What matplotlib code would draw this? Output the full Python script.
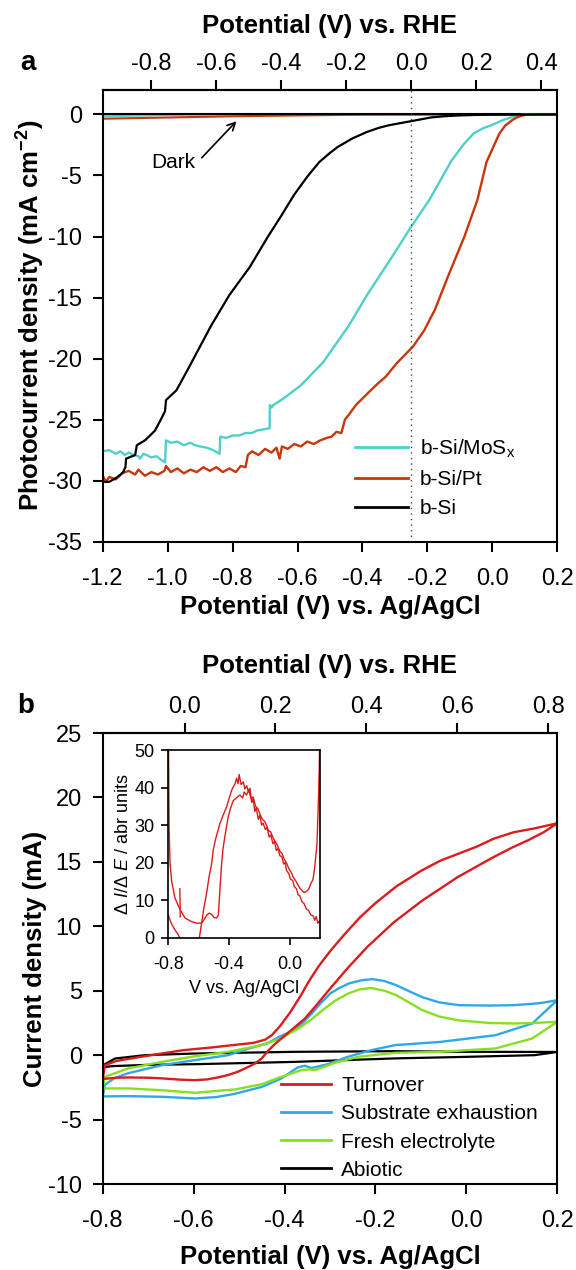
import matplotlib
matplotlib.use("Agg")
import matplotlib.pyplot as plt
from matplotlib.lines import Line2D
from matplotlib.ticker import FormatStrFormatter

plt.rcParams['font.family'] = ['Liberation Sans', 'DejaVu Sans']
plt.rcParams['mathtext.fontset'] = 'custom'
plt.rcParams['mathtext.rm'] = 'Liberation Sans'
plt.rcParams['mathtext.it'] = 'Liberation Sans:italic'
plt.rcParams['mathtext.bf'] = 'Liberation Sans:bold'
plt.rcParams['axes.unicode_minus'] = False

# ---------------- panel a: photocurrent vs potential ----------------
RHE_A = 0.25  # V, Ag/AgCl -> RHE
a_xticks = [-1.2, -1.0, -0.8, -0.6, -0.4, -0.2, 0.0, 0.2]
a_rhe_ticks = [-0.8, -0.6, -0.4, -0.2, 0.0, 0.2, 0.4]
a_yticks = [0, -5, -10, -15, -20, -25, -30, -35]

si_v = [-1.2, -1.18, -1.16, -1.145, -1.137, -1.13, -1.128, -1.1, -1.095, -1.07,
        -1.054, -1.039, -1.019, -1.008, -1.005, -0.973, -0.94, -0.906, -0.866,
        -0.81, -0.747, -0.691, -0.65, -0.611, -0.57, -0.533, -0.5, -0.476, -0.43,
        -0.386, -0.35, -0.318, -0.25, -0.19, -0.15, -0.104, -0.05, 0.0, 0.2]
si_j = [-30.1, -30.1, -29.8, -29.5, -29.3, -28.9, -28.2, -27.9, -27.1, -26.7,
        -26.3, -25.9, -24.9, -24.3, -23.4, -22.6, -21.0, -19.3, -17.3,
        -14.8, -12.5, -10.0, -8.3, -6.6, -5.1, -3.9, -3.15, -2.66, -1.95,
        -1.43, -1.1, -0.88, -0.55, -0.25, -0.15, -0.08, -0.04, -0.02, 0.0]

pt_v = [-1.20, -1.19, -1.18, -1.16, -1.14, -1.12, -1.10, -1.09, -1.07, -1.05,
        -1.03, -1.01, -1.005, -0.99, -0.97, -0.95, -0.93, -0.91, -0.89, -0.87,
        -0.85, -0.83, -0.81, -0.79, -0.775, -0.76, -0.753, -0.74, -0.72, -0.70,
        -0.68, -0.665, -0.655, -0.648, -0.63, -0.61, -0.59, -0.57, -0.55, -0.53,
        -0.51, -0.495, -0.48, -0.465, -0.454, -0.442, -0.42, -0.386, -0.355, -0.329,
        -0.295, -0.244, -0.21, -0.177, -0.137, -0.086, -0.046, -0.018, 0.021, 0.04,
        0.061, 0.075, 0.09, 0.11, 0.2]
pt_j = [-29.6, -30.1, -29.7, -29.9, -29.4, -29.2, -29.5, -29.1, -29.6, -29.3,
        -29.5, -29.2, -28.8, -29.3, -29.0, -29.4, -29.1, -29.3, -28.9, -29.2,
        -28.9, -29.3, -29.0, -29.3, -28.8, -28.9, -27.9, -27.6, -27.9, -27.4,
        -27.7, -27.3, -28.2, -27.2, -27.4, -27.0, -27.2, -26.8, -27.0, -26.7,
        -26.5, -26.4, -26.0, -26.1, -25.0, -24.6, -23.8, -22.9, -22.1, -21.5,
        -20.4, -19.0, -17.7, -16.0, -13.3, -10.0, -7.0, -3.9, -1.6, -0.9,
        -0.47, -0.25, -0.1, 0.0, 0.0]

mos_v = [-1.2, -1.18, -1.16, -1.145, -1.132, -1.12, -1.105, -1.09, -1.085, -1.075,
         -1.065, -1.05, -1.035, -1.02, -1.008, -1.005, -0.99, -0.97, -0.95, -0.93,
         -0.916, -0.9, -0.88, -0.86, -0.84, -0.838, -0.82, -0.8, -0.78, -0.76,
         -0.74, -0.725, -0.705, -0.686, -0.685, -0.68, -0.674, -0.645, -0.59,
         -0.521, -0.442, -0.386, -0.3, -0.25, -0.194, -0.16, -0.125, -0.09, -0.058,
         -0.03, 0.0, 0.032, 0.05, 0.07, 0.085, 0.097, 0.2]
mos_j = [-27.6, -27.5, -27.8, -27.6, -27.9, -27.7, -27.9, -28.0, -28.2, -27.8,
         -27.9, -28.1, -28.0, -28.3, -28.5, -26.7, -26.9, -26.8, -27.1, -26.9,
         -27.1, -27.2, -27.3, -27.5, -27.8, -26.4, -26.5, -26.3, -26.3, -26.1,
         -26.1, -25.9, -25.8, -25.7, -23.8, -24.0, -23.8, -23.3, -22.2,
         -20.3, -17.3, -14.8, -11.3, -9.2, -7.0, -5.4, -3.75, -2.5, -1.56,
         -1.15, -0.85, -0.47, -0.3, -0.15, -0.05, 0.0, 0.0]

dark_v = [-1.2, -1.0, -0.8, -0.6, -0.4, 0.2]
dark_pt = [-0.35, -0.25, -0.15, -0.08, -0.02, 0.0]
dark_mos = [-0.15, -0.05, 0.0, 0.0, 0.0, 0.0]
dark_si = [0.0, 0.0, 0.0, 0.0, 0.0, 0.0]

# ---------------- panel b: cyclic voltammograms ----------------
RHE_B = 0.62
b_xticks = [-0.8, -0.6, -0.4, -0.2, 0.0, 0.2]
b_rhe_ticks = [0.0, 0.2, 0.4, 0.6, 0.8]
b_yticks = [-10, -5, 0, 5, 10, 15, 20, 25]

turn_v = [-0.8, -0.77, -0.744, -0.7, -0.67, -0.63, -0.597, -0.57, -0.547, -0.525,
          -0.503, -0.485, -0.465, -0.45, -0.436, -0.42, -0.4, -0.38, -0.355, -0.333,
          -0.299, -0.26, -0.218, -0.16, -0.097, -0.02, 0.056, 0.1, 0.137, 0.17, 0.2,
          0.15, 0.104, 0.06, 0.024, -0.02, -0.057, -0.1, -0.154, -0.2, -0.234,
          -0.27, -0.299, -0.325, -0.347, -0.363, -0.388, -0.41, -0.428, -0.443,
          -0.469, -0.509, -0.56, -0.622, -0.67, -0.72, -0.77, -0.795, -0.8]
turn_i = [-1.85, -1.75, -1.73, -1.75, -1.8, -1.9, -1.94, -1.88, -1.73, -1.55,
          -1.29, -1.0, -0.65, -0.25, 0.35, 0.9, 1.5, 2.1, 2.85, 3.75,
          5.2, 6.8, 8.4, 10.3, 12.0, 13.8, 15.3, 16.1, 16.7, 17.3, 18.0,
          17.6, 17.3, 16.8, 16.2, 15.6, 15.1, 14.3, 13.1, 11.8, 10.7,
          9.3, 8.1, 6.9, 5.7, 4.7, 3.3, 2.25, 1.55, 1.2,
          0.95, 0.8, 0.6, 0.39, 0.13, -0.15, -0.45, -0.78, -1.85]

exh_v = [-0.8, -0.744, -0.67, -0.597, -0.55, -0.509, -0.45, -0.407, -0.371, -0.355,
         -0.341, -0.305, -0.261, -0.209, -0.157, -0.057, 0.064, 0.145, 0.2,
         0.17, 0.15, 0.104, 0.05, -0.017, -0.06, -0.097, -0.125, -0.154, -0.18,
         -0.206, -0.23, -0.259, -0.28, -0.299, -0.32, -0.34, -0.36, -0.38, -0.412,
         -0.437, -0.48, -0.524, -0.6, -0.67, -0.744, -0.775, -0.795, -0.8]
exh_i = [-3.2, -3.18, -3.23, -3.36, -3.25, -3.0, -2.46, -1.81, -0.95, -0.82,
         -1.0, -0.7, -0.13, 0.39, 0.78, 1.03, 1.55, 2.46, 4.27,
         4.08, 4.0, 3.88, 3.85, 3.88, 4.1, 4.5, 4.95, 5.43, 5.75,
         5.9, 5.82, 5.56, 5.2, 4.8, 4.05, 3.24, 2.5, 1.94, 1.42,
         0.93, 0.5, 0.0, -0.4, -0.78, -1.4, -1.8, -2.3, -3.2]

fresh_v = [-0.8, -0.744, -0.67, -0.597, -0.509, -0.45, -0.407, -0.363, -0.345, -0.333,
           -0.289, -0.239, -0.157, -0.057, 0.064, 0.145, 0.2,
           0.15, 0.104, 0.05, -0.017, -0.06, -0.097, -0.154, -0.18, -0.21, -0.235,
           -0.259, -0.29, -0.316, -0.34, -0.364, -0.407, -0.45, -0.524, -0.6, -0.67,
           -0.744, -0.795, -0.8]
fresh_i = [-2.58, -2.58, -2.72, -2.92, -2.66, -2.25, -1.68, -1.16, -1.1, -1.16,
           -0.59, -0.13, 0.18, 0.26, 0.52, 1.3, 2.59,
           2.5, 2.46, 2.5, 2.7, 3.0, 3.5, 4.65, 5.0, 5.22, 5.1,
           4.8, 4.2, 3.5, 2.8, 2.2, 1.3, 0.78, 0.26, -0.1, -0.52,
           -1.03, -1.68, -2.58]

abio_v = [-0.8, -0.78, -0.7, -0.597, -0.377, -0.157, 0.0, 0.15, 0.2,
          0.0, -0.157, -0.377, -0.597, -0.707, -0.773, -0.795, -0.8]
abio_i = [-0.95, -0.85, -0.75, -0.7, -0.52, -0.25, -0.13, 0.0, 0.25,
          0.26, 0.31, 0.26, 0.13, 0.0, -0.26, -0.7, -0.95]

# inset: dI/dE of turnover CV
in_xticks = [-0.8, -0.4, 0.0]
in_yticks = [0, 10, 20, 30, 40, 50]
dA_v = [-0.799, -0.795, -0.789, -0.778, -0.756, -0.723, -0.69, -0.65, -0.613, -0.58,
        -0.56, -0.547, -0.53, -0.515, -0.498, -0.482, -0.47, -0.46, -0.45, -0.44,
        -0.427, -0.405, -0.39, -0.372, -0.35, -0.328, -0.31, -0.3, -0.284, -0.27,
        -0.255, -0.241, -0.225, -0.21, -0.197, -0.18, -0.165, -0.153, -0.14, -0.125,
        -0.109, -0.095, -0.08, -0.065, -0.05, -0.035, -0.021, -0.005, 0.01, 0.022,
        0.04, 0.055, 0.066, 0.08, 0.095, 0.111, 0.125, 0.14, 0.154, 0.165,
        0.18, 0.188, 0.195, 0.198]
dA_y = [55, 30, 20, 15, 10.5, 7.5, 5.2, 4.3, 3.8, 3.9,
        5.0, 6.0, 6.5, 6.2, 5.3, 5.2, 6.0, 12.6, 19.0, 23.5,
        27.0, 32.2, 34.5, 36.5, 37.3, 38.0, 37.2, 38.8, 38.0, 39.5,
        37.0, 37.5, 35.0, 34.4, 33.0, 31.5, 31.0, 30.0, 28.5, 28.2,
        26.5, 25.6, 24.5, 23.0, 22.4, 20.8, 19.9, 18.3, 17.4, 16.2,
        15.1, 14.0, 13.2, 12.6, 12.0, 12.3, 12.9, 14.4, 15.5, 18.8,
        25.0, 34.8, 45.0, 55]
dB_v = [-0.8, -0.79, -0.778, -0.756, -0.735, -0.72, -0.7, -0.62, -0.595, -0.58,
        -0.565, -0.547, -0.53, -0.515, -0.504, -0.49, -0.46, -0.44, -0.416, -0.4,
        -0.385, -0.372, -0.36, -0.35, -0.34, -0.333, -0.32, -0.306, -0.295, -0.284,
        -0.27, -0.262, -0.25, -0.241, -0.23, -0.22, -0.207, -0.197, -0.185, -0.175,
        -0.16, -0.15, -0.135, -0.125, -0.11, -0.1, -0.088, -0.076, -0.065, -0.052,
        -0.04, -0.03, -0.02, -0.005, 0.005, 0.02, 0.03, 0.045, 0.055, 0.066,
        0.08, 0.095, 0.11, 0.125, 0.14, 0.154, 0.165, 0.175, 0.185, 0.195, 0.2]
dB_y = [6.0, 4.8, 3.6, 2.0, 0.8, -0.5, -4.0, -4.0, 0.0, 4.0,
        8.0, 12.0, 16.5, 19.5, 23.3, 26.0, 30.4, 32.5, 34.8, 37.0,
        39.0, 40.2, 41.0, 42.5, 41.0, 43.5, 40.8, 41.5, 39.6, 40.5,
        38.8, 39.8, 36.0, 37.2, 33.6, 34.6, 31.5, 32.6, 30.0, 30.5,
        28.8, 29.4, 26.8, 27.4, 25.0, 25.6, 23.2, 23.8, 21.8, 21.6,
        19.6, 20.0, 17.8, 17.0, 15.6, 15.2, 13.6, 13.0, 11.4, 11.2,
        9.6, 9.0, 7.6, 7.2, 6.0, 5.8, 4.6, 5.6, 3.8, 4.4, 4.0]
dC_v = [-0.724, -0.721]
dC_y = [13.0, 5.5]

C_MOS = '#4FCFCA'
C_PT = '#C8360C'
C_TURN = '#DA1C1C'
C_EXH = '#2EA8EC'
C_FRESH = '#86E01E'


def style(ax, size=17, length=7, lw=1.5):
    for s in ax.spines.values():
        s.set_linewidth(lw)
    ax.tick_params(direction='out', length=length, width=lw, labelsize=size,
                   top=False, right=False)


fig = plt.figure(figsize=(5.76, 12.7), dpi=100)
ax_a = fig.add_axes([0.1783, 0.5735, 0.7892, 0.3556])
ax_b = fig.add_axes([0.1783, 0.0677, 0.7892, 0.3551])
ax_in = fig.add_axes([0.2922, 0.2618, 0.2634, 0.1476])

# ---- panel a
ax_a.plot(dark_v, dark_mos, color=C_MOS, lw=1.5)
ax_a.plot(dark_v, dark_pt, color=C_PT, lw=1.5)
ax_a.plot(dark_v, dark_si, color='black', lw=1.5)
ax_a.plot(mos_v, mos_j, color=C_MOS, lw=1.7)
ax_a.plot(pt_v, pt_j, color=C_PT, lw=1.7)
ax_a.plot(si_v, si_j, color='black', lw=1.6)
ax_a.axvline(-RHE_A, color='#444444', ls=(0, (1, 3)), lw=1.0)
ax_a.set_xlim(-1.2, 0.2)
ax_a.set_ylim(-35, 2)
ax_a.set_xticks(a_xticks)
ax_a.set_yticks(a_yticks)
ax_a.xaxis.set_major_formatter(FormatStrFormatter('%.1f'))
style(ax_a)
ax_a.tick_params(axis='x', pad=12)
ax_a.tick_params(axis='y', pad=8)
ax_a.set_xlabel('Potential (V) vs. Ag/AgCl', fontsize=18.5, fontweight='bold')
ax_a.xaxis.set_label_coords(0.5, -0.118)
ax_a.set_ylabel(r'Photocurrent density (mA cm$^{\mathbf{-2}}$)', fontsize=18.5, fontweight='bold')
ax_a.yaxis.set_label_coords(-0.123, 0.5)

sec_a = ax_a.secondary_xaxis('top', functions=(lambda v: v + RHE_A, lambda r: r - RHE_A))
sec_a.set_xticks(a_rhe_ticks)
sec_a.xaxis.set_major_formatter(FormatStrFormatter('%.1f'))
sec_a.spines['top'].set_linewidth(1.5)
sec_a.tick_params(direction='out', length=7, width=1.5, labelsize=17, pad=4)
sec_a.set_xlabel('Potential (V) vs. RHE', fontsize=18.5, fontweight='bold')
sec_a.xaxis.set_label_coords(0.5, 1.126, transform=ax_a.transAxes)

ax_a.annotate('', xy=(-0.788, -0.55), xytext=(-0.895, -3.55),
              arrowprops=dict(arrowstyle='->', color='black', lw=1.2,
                              shrinkA=0, shrinkB=0, mutation_scale=14))
ax_a.text(-0.984, -3.9, 'Dark', fontsize=15, ha='center', va='center')

leg_a = [Line2D([], [], color=C_MOS, lw=2),
         Line2D([], [], color=C_PT, lw=2),
         Line2D([], [], color='black', lw=2)]
ax_a.legend(leg_a, [r'b-Si/MoS$_\mathrm{x}$', 'b-Si/Pt', 'b-Si'],
            loc='upper left', bbox_to_anchor=(0.554, 0.231), frameon=False,
            fontsize=15, handlelength=2.55, handletextpad=0.6, labelspacing=0.5,
            borderpad=0, borderaxespad=0)

# ---- panel b
ax_b.plot(abio_v, abio_i, color='black', lw=1.6)
ax_b.plot(exh_v, exh_i, color=C_EXH, lw=1.7)
ax_b.plot(fresh_v, fresh_i, color=C_FRESH, lw=1.7)
ax_b.plot(turn_v, turn_i, color=C_TURN, lw=1.7)
ax_b.set_xlim(-0.8, 0.2)
ax_b.set_ylim(-10, 25)
ax_b.set_xticks(b_xticks)
ax_b.set_yticks(b_yticks)
ax_b.xaxis.set_major_formatter(FormatStrFormatter('%.1f'))
style(ax_b)
ax_b.tick_params(axis='x', pad=12)
ax_b.tick_params(axis='y', pad=8)
ax_b.set_xlabel('Potential (V) vs. Ag/AgCl', fontsize=18.5, fontweight='bold')
ax_b.xaxis.set_label_coords(0.5, -0.135)
ax_b.set_ylabel('Current density (mA)', fontsize=18.5, fontweight='bold')
ax_b.yaxis.set_label_coords(-0.123, 0.5)

sec_b = ax_b.secondary_xaxis('top', functions=(lambda v: v + RHE_B, lambda r: r - RHE_B))
sec_b.set_xticks(b_rhe_ticks)
sec_b.xaxis.set_major_formatter(FormatStrFormatter('%.1f'))
sec_b.spines['top'].set_linewidth(1.5)
sec_b.tick_params(direction='out', length=7, width=1.5, labelsize=17, pad=4)
sec_b.set_xlabel('Potential (V) vs. RHE', fontsize=18.5, fontweight='bold')
sec_b.xaxis.set_label_coords(0.5, 1.133, transform=ax_b.transAxes)

leg_b = [Line2D([], [], color=C_TURN, lw=2),
         Line2D([], [], color=C_EXH, lw=2),
         Line2D([], [], color=C_FRESH, lw=2),
         Line2D([], [], color='black', lw=2)]
ax_b.legend(leg_b, ['Turnover', 'Substrate exhaustion', 'Fresh electrolyte', 'Abiotic'],
            loc='upper left', bbox_to_anchor=(0.392, 0.239), frameon=False,
            fontsize=15, handlelength=2.4, handletextpad=0.5, labelspacing=0.44,
            borderpad=0, borderaxespad=0)

# ---- inset
ax_in.plot(dA_v, dA_y, color=C_TURN, lw=1.0)
ax_in.plot(dB_v, dB_y, color=C_TURN, lw=1.0)
ax_in.plot(dC_v, dC_y, color=C_TURN, lw=1.0)
ax_in.set_xlim(-0.8, 0.2)
ax_in.set_ylim(0, 50)
ax_in.set_xticks(in_xticks)
ax_in.set_yticks(in_yticks)
ax_in.xaxis.set_major_formatter(FormatStrFormatter('%.1f'))
style(ax_in, size=13, length=5, lw=1.2)
ax_in.tick_params(axis='x', pad=8)
ax_in.tick_params(axis='y', pad=5)
ax_in.set_xlabel('V vs. Ag/AgCl', fontsize=13, labelpad=5)
ax_in.set_ylabel(r'$\Delta\ I$/$\Delta\ E$ / abr units', fontsize=13, labelpad=2)

fig.text(28 / 576, 1 - 63 / 1270, 'a', fontsize=20, fontweight='bold', ha='center', va='center')
fig.text(26 / 576, 1 - 706 / 1270, 'b', fontsize=20, fontweight='bold', ha='center', va='center')

fig.savefig('out.png', dpi=100)
